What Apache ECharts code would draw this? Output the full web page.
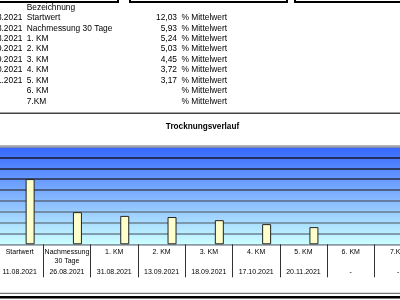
<!DOCTYPE html>
<html><head><meta charset="utf-8">
<script src="https://cdn.jsdelivr.net/npm/echarts@6/dist/echarts.min.js"></script>
<style>html,body{margin:0;padding:0;background:#fff;overflow:hidden;width:400px;height:300px}#c{position:absolute;left:-4px;top:0;width:430px;height:300px}</style>
</head><body><div id="c"></div>
<script>
// ---- data ----
const categories = ['Startwert', 'Nachmessung\n30 Tage', '1. KM', '2. KM', '3. KM', '4. KM', '5. KM', '6. KM', '7.KM'];
const listNames = ['Startwert', 'Nachmessung 30 Tage', '1. KM', '2. KM', '3. KM', '4. KM', '5. KM', '6. KM', '7.KM'];
const values = [12.03, 5.93, 5.24, 5.03, 4.45, 3.72, 3.17, null, null];
const dates = ['11.08.2021', '26.08.2021', '31.08.2021', '13.09.2021', '18.09.2021', '17.10.2021', '20.11.2021', '-', '-'];
const listDates = ['11.08.2021', '26.08.2021', '31.08.2021', '13.09.2021', '18.09.2021', '17.10.2021', '20.11.2021', '', ''];
const yMin = 0, yMax = 18, yStep = 2;
const titleText = 'Trocknungsverlauf';
const headerText = 'Bezeichnung';
const unitText = '% Mittelwert';

// ---- chart ----
const FONT = '"Liberation Sans", Arial, sans-serif';
const OX = 4; // container is shifted 4px left
const chart = echarts.init(document.getElementById('c'), null, {renderer: 'canvas'});

const graphics = [];
[[-10, 118], [130, 287], [295, 410]].forEach(([a, b]) => {
  graphics.push({type: 'rect', shape: {x: a + OX, y: -20, width: b - a, height: 22},
    style: {fill: 'none', stroke: '#000', lineWidth: 2}});
});
const rowY = i => 7.3 + 10.45 * i;
const tfont = '8.4px ' + FONT;
graphics.push({type: 'text', x: 26.7 + OX, y: rowY(0), style: {text: headerText, font: tfont, fill: '#000', align: 'left', verticalAlign: 'middle'}});
listNames.forEach((n, i) => {
  const y = rowY(i + 1);
  if (listDates[i]) graphics.push({type: 'text', x: 22.5 + OX, y, style: {text: listDates[i], font: tfont, fill: '#000', align: 'right', verticalAlign: 'middle'}});
  graphics.push({type: 'text', x: 26.7 + OX, y, style: {text: n, font: tfont, fill: '#000', align: 'left', verticalAlign: 'middle'}});
  if (values[i] != null) graphics.push({type: 'text', x: 177 + OX, y, style: {text: values[i].toFixed(2).replace('.', ','), font: tfont, fill: '#000', align: 'right', verticalAlign: 'middle'}});
  graphics.push({type: 'text', x: 181.5 + OX, y, style: {text: unitText, font: tfont, fill: '#000', align: 'left', verticalAlign: 'middle'}});
});
graphics.push({type: 'line', shape: {x1: 0, y1: 113.3, x2: 430, y2: 113.3}, style: {stroke: '#444', lineWidth: 1.5}});
graphics.push({type: 'line', shape: {x1: 0, y1: 145.8, x2: 430, y2: 145.8}, style: {stroke: '#999', lineWidth: 1}});
graphics.push({type: 'text', x: 202.5 + OX, y: 126.5, style: {text: titleText, font: 'bold 8.2px ' + FONT, fill: '#000', align: 'center', verticalAlign: 'middle'}});
graphics.push({type: 'line', shape: {x1: 0, y1: 293.3, x2: 430, y2: 293.3}, style: {stroke: '#555', lineWidth: 1}});
graphics.push({type: 'line', shape: {x1: 0, y1: 297.3, x2: 430, y2: 297.3}, style: {stroke: '#000', lineWidth: 2.5}});

const option = {
  animation: false,
  grid: {
    left: 0, width: 425.7, top: 146.7, bottom: 55.7, show: true, borderWidth: 0,
    backgroundColor: new echarts.graphic.LinearGradient(0, 0, 0, 1, [
      {offset: 0, color: '#3366FF'}, {offset: 1, color: '#CCFFFF'}])
  },
  xAxis: [{
    type: 'category', data: categories, position: 'bottom', boundaryGap: true,
    axisLine: {show: true, lineStyle: {color: '#8a9aa4', width: 1}},
    axisTick: {show: true, interval: 0, length: 33, lineStyle: {color: '#333', width: 1}},
    axisLabel: {interval: 0, margin: 4, fontSize: 7, lineHeight: 8.3, color: '#000', fontFamily: FONT}
  }, {
    type: 'category', data: dates, position: 'bottom', boundaryGap: true,
    axisLine: {show: false}, axisTick: {show: false},
    axisLabel: {interval: 0, margin: 24, fontSize: 7, color: '#000', fontFamily: FONT}
  }],
  yAxis: {
    type: 'value', min: yMin, max: yMax, interval: yStep,
    axisLine: {show: false}, axisTick: {show: false}, axisLabel: {show: false},
    splitLine: {show: true, lineStyle: {width: 1.5, color: ['#8a9aa4', '#6b8290', '#6b8290', '#667888', '#5a6880', '#3c4458', '#2a2c40', '#1e2030', '#181828', '#999']}}
  },
  series: [
    {type: 'bar', data: values.map(() => null), barWidth: 9, barGap: '133%', silent: true},
    {type: 'bar', data: values, barWidth: 9, barGap: '133%',
      itemStyle: {color: '#FFFFCC', borderColor: '#222', borderWidth: 1}}
  ],
  graphic: graphics
};
chart.setOption(option);
</script></body></html>
